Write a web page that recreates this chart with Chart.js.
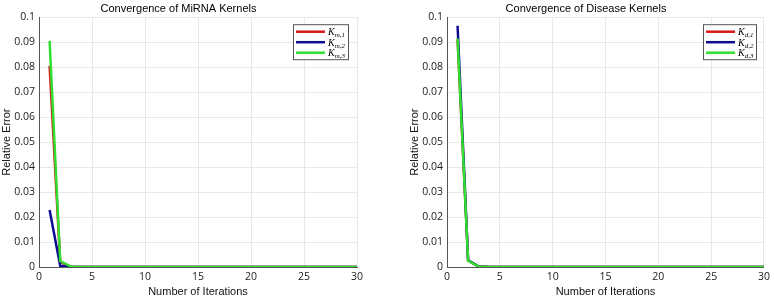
<!DOCTYPE html>
<html>
<head>
<meta charset="utf-8">
<script src="https://cdn.jsdelivr.net/npm/chart.js@4.4.1/dist/chart.umd.min.js"></script>
<style>
  html, body { margin: 0; padding: 0; background: #fff; }
  #wrap { position: relative; width: 774px; height: 300px; }
  .panel { position: absolute; top: 0; width: 387px; height: 300px; }
</style>
</head>
<body>
<div id="wrap">
  <div class="panel" style="left:0"><canvas id="mirna" width="387" height="300"></canvas></div>
  <div class="panel" style="left:387px"><canvas id="disease" width="387" height="300"></canvas></div>
</div>
<script>
// iteration numbers (x values)
const iterations = [1, 2, 3, 4, 5, 6, 7, 8, 9, 10, 11, 12, 13, 14, 15, 16, 17, 18, 19, 20, 21, 22, 23, 24, 25, 26, 27, 28, 29, 30];

// relative error per kernel
const mirnaK1 = [0.0805, 0.0020, 0.0001, 0, 0, 0, 0, 0, 0, 0, 0, 0, 0, 0, 0, 0, 0, 0, 0, 0, 0, 0, 0, 0, 0, 0, 0, 0, 0, 0];
const mirnaK2 = [0.0228, 0.0005, 0.0000, 0, 0, 0, 0, 0, 0, 0, 0, 0, 0, 0, 0, 0, 0, 0, 0, 0, 0, 0, 0, 0, 0, 0, 0, 0, 0, 0];
const mirnaK3 = [0.0905, 0.0024, 0.0002, 0, 0, 0, 0, 0, 0, 0, 0, 0, 0, 0, 0, 0, 0, 0, 0, 0, 0, 0, 0, 0, 0, 0, 0, 0, 0, 0];
const diseaseK1 = [0.0910, 0.0026, 0.0002, 0, 0, 0, 0, 0, 0, 0, 0, 0, 0, 0, 0, 0, 0, 0, 0, 0, 0, 0, 0, 0, 0, 0, 0, 0, 0, 0];
const diseaseK2 = [0.0966, 0.0027, 0.0002, 0, 0, 0, 0, 0, 0, 0, 0, 0, 0, 0, 0, 0, 0, 0, 0, 0, 0, 0, 0, 0, 0, 0, 0, 0, 0, 0];
const diseaseK3 = [0.0914, 0.0025, 0.0002, 0, 0, 0, 0, 0, 0, 0, 0, 0, 0, 0, 0, 0, 0, 0, 0, 0, 0, 0, 0, 0, 0, 0, 0, 0, 0, 0];

const mirnaSubs = ['m,1', 'm,2', 'm,3'];
const diseaseSubs = ['d,1', 'd,2', 'd,3'];

const colors = ['#d81818', '#0c0c92', '#30e030'];

function toPoints(values) {
    return values.map((v, i) => ({ x: iterations[i], y: v }));
}

// MATLAB style legend box in the top right corner of the plot
const cornerLegend = {
    id: 'cornerLegend',
    afterDatasetsDraw(chart, args, opts) {
        const ctx = chart.ctx;
        const area = chart.chartArea;
        const w = opts.width, h = 35;
        const x0 = area.right - opts.inset - w;
        const y0 = area.top + 7;
        ctx.save();
        ctx.fillStyle = '#fff';
        ctx.fillRect(x0, y0, w, h);
        ctx.strokeStyle = '#555';
        ctx.lineWidth = 1;
        ctx.strokeRect(x0 + 0.5, y0 + 0.5, w, h);
        chart.data.datasets.forEach((ds, i) => {
            const y = y0 + 7.5 + i * 10.5;
            ctx.strokeStyle = ds.borderColor;
            ctx.lineWidth = 2.5;
            ctx.beginPath();
            ctx.moveTo(x0 + 3, y);
            ctx.lineTo(x0 + 32, y);
            ctx.stroke();
            ctx.fillStyle = '#000';
            ctx.textBaseline = 'alphabetic';
            ctx.font = 'italic 10px "Liberation Serif"';
            ctx.fillText('K', x0 + 35, y + 3.5);
            const kw = ctx.measureText('K').width;
            ctx.font = 'italic 7px "Liberation Serif"';
            ctx.fillText(opts.subs[i], x0 + 35 + kw, y + 5.5);
        });
        ctx.restore();
    }
};

function makeChart(id, title, series, subs, pad, legendWidth, legendInset) {
    const ctx = document.getElementById(id).getContext('2d');
    return new Chart(ctx, {
        type: 'line',
        data: {
            datasets: series.map((s, i) => ({
                label: 'K_' + subs[i],
                data: toPoints(s),
                borderColor: colors[i],
                backgroundColor: colors[i],
                borderWidth: 2.5,
                pointRadius: 0,
                fill: false,
                tension: 0,
                order: 2 - i
            }))
        },
        options: {
            responsive: false,
            animation: false,
            devicePixelRatio: 1,
            layout: { padding: pad },
            plugins: {
                legend: { display: false },
                tooltip: { enabled: false },
                title: {
                    display: true,
                    text: title,
                    color: '#000',
                    font: { family: '"Liberation Sans"', size: 11, weight: 'normal' },
                    padding: { top: 2, bottom: 2 }
                },
                cornerLegend: { subs: subs, width: legendWidth, inset: legendInset }
            },
            scales: {
                x: {
                    type: 'linear',
                    min: 0,
                    max: 30,
                    afterFit(scale) { scale.height = 33; },
                    ticks: {
                        stepSize: 5,
                        padding: 4,
                        maxRotation: 0,
                        color: '#222',
                        font: { family: '"Open Sans"', size: 10.5 }
                    },
                    grid: { color: '#e8e8e8', drawTicks: false },
                    border: { color: '#555', width: 1 },
                    title: {
                        display: true,
                        text: 'Number of Iterations',
                        color: '#111',
                        font: { family: '"Liberation Sans"', size: 11 },
                        padding: { top: 0, bottom: 1 }
                    }
                },
                y: {
                    min: 0,
                    max: 0.1,
                    afterFit(scale) { scale.width = 39; },
                    ticks: {
                        stepSize: 0.01,
                        padding: 4,
                        color: '#222',
                        font: { family: '"Open Sans"', size: 10.5 },
                        callback: v => String(+v.toFixed(2))
                    },
                    grid: { color: '#e8e8e8', drawTicks: false },
                    border: { color: '#555', width: 1 },
                    title: {
                        display: true,
                        text: 'Relative Error',
                        color: '#111',
                        font: { family: '"Liberation Sans"', size: 11 },
                        padding: { top: 0, bottom: 0 }
                    }
                }
            }
        },
        plugins: [cornerLegend]
    });
}

makeChart('mirna', 'Convergence of MiRNA Kernels', [mirnaK1, mirnaK2, mirnaK3], mirnaSubs,
    { left: 0, right: 30, top: 0, bottom: 0 }, 55, 9);
makeChart('disease', 'Convergence of Disease Kernels', [diseaseK1, diseaseK2, diseaseK3], diseaseSubs,
    { left: 21, right: 10, top: 0, bottom: 0 }, 53, 8);
</script>
</body>
</html>
